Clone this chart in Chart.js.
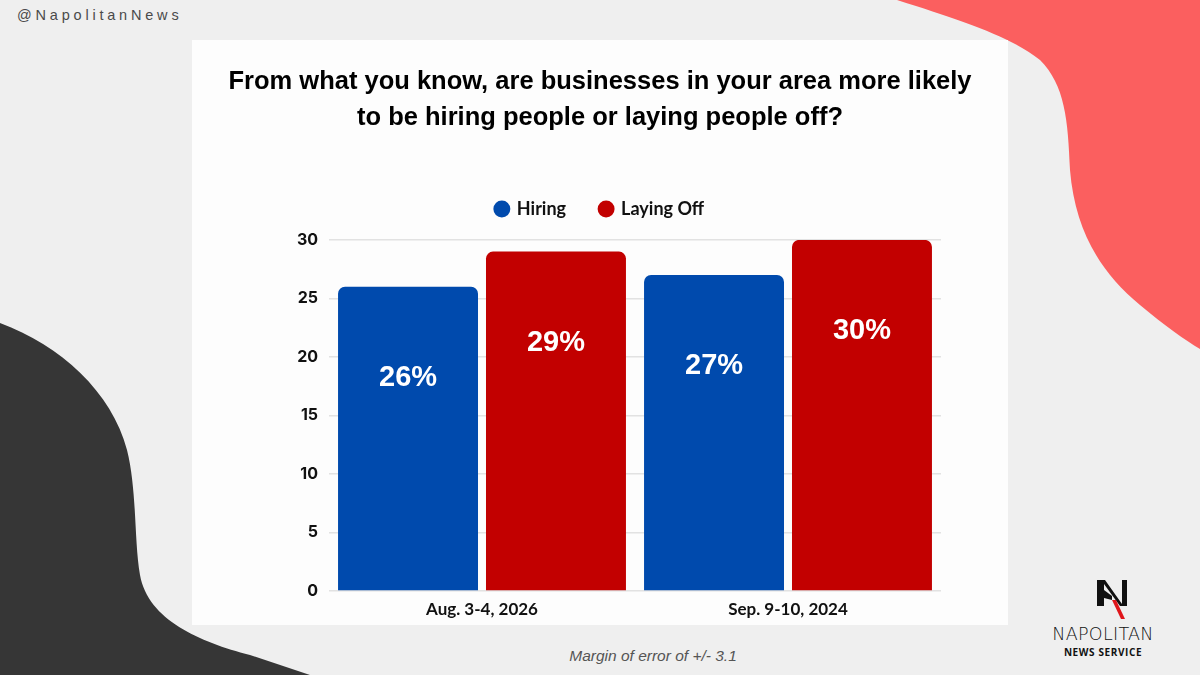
<!DOCTYPE html>
<html>
<head>
<meta charset="utf-8">
<script src="https://cdn.jsdelivr.net/npm/chart.js@4.4.1/dist/chart.umd.min.js"></script>
<style>
  html, body { margin: 0; padding: 0; }
  body { width: 1200px; height: 675px; background: #efefef; position: relative; overflow: hidden; font-family: "Liberation Sans", Arial, sans-serif; }
  #fondo { position: absolute; left: 0; top: 0; }
  #panel { position: absolute; left: 192px; top: 40px; width: 816px; height: 585px; background: #fdfdfd; }
  #handle { position: absolute; left: 17px; top: 7px; font-size: 14.5px; letter-spacing: 3.8px; color: #4a4a4a; }
  #nota { position: absolute; left: 453px; width: 400px; top: 647px; text-align: center; font-style: italic; font-size: 15.5px; color: #555; }
  #logo1 { position: absolute; left: 1043px; width: 120px; top: 624px; text-align: center; font-size: 17.5px; letter-spacing: 0.3px; color: #111; font-family: "DejaVu Sans", sans-serif; font-weight: 300; }
  #logo2 { position: absolute; left: 1043px; width: 120px; top: 645px; text-align: center; font-size: 10px; font-weight: bold; letter-spacing: 0.6px; color: #111; font-family: "Open Sans", sans-serif; }
</style>
</head>
<body>
<svg id="fondo" width="1200" height="675">
  <path d="M897,0 C960,20 1010,36 1040,60 C1065,85 1068,120 1070,170 C1075,230 1100,272 1140,305 C1165,326 1185,340 1200,349 L1200,0 Z" fill="#fb5f5f"/>
  <path d="M0,323 C60,345 112,392 127,450 C137,490 134,540 140,575 C148,620 200,642 250,655 L310,675 L0,675 Z" fill="#363636"/>
  <!-- logo N -->
  <path d="M1097,580 L1105,580 L1122,604 L1122,580 L1127,580 L1127,606 L1120,606 L1104,584 L1104,606 L1097,606 Z" fill="#111"/>
  <path d="M1104,590 L1112,596 L1112,600 L1104,598 Z" fill="#111"/>
  <path d="M1112,600 L1116,600 L1125,619 L1121,619 Z" fill="#e0161b"/>
</svg>
<div id="panel"><canvas id="grafico"></canvas></div>
<div id="handle">@NapolitanNews</div>
<div id="nota">Margin of error of +/- 3.1</div>
<div id="logo1">NAPOLITAN</div>
<div id="logo2">NEWS SERVICE</div>
<script>
const fechas = ["Aug. 3-4, 2026", "Sep. 9-10, 2024"];
const contratando = [26, 27];
const despidiendo = [29, 30];
const ticksY = [0, 5, 10, 15, 20, 25, 30];

const AZUL = "#004aad";
const ROJO = "#c20000";

// etiquetas blancas dentro de cada barra
const etiquetasBarras = {
  id: "etiquetasBarras",
  afterDatasetsDraw(chart) {
    const { ctx } = chart;
    ctx.save();
    ctx.fillStyle = "#ffffff";
    ctx.font = "bold 29px 'Liberation Sans', Arial, sans-serif";
    ctx.textAlign = "center";
    ctx.textBaseline = "middle";
    chart.data.datasets.forEach((ds, i) => {
      chart.getDatasetMeta(i).data.forEach((barra, j) => {
        ctx.fillText(ds.data[j] + "%", barra.x, barra.y + 91);
      });
    });
    ctx.restore();
  },
};

// alto fijo para la leyenda
const altoLeyenda = {
  id: "altoLeyenda",
  afterInit(chart) {
    const fitOriginal = chart.legend.fit;
    chart.legend.fit = function () {
      fitOriginal.call(this);
      this.height = 74;
    };
  },
};

new Chart(document.getElementById("grafico"), {
  type: "bar",
  data: {
    labels: fechas,
    datasets: [
      { label: "Hiring", data: contratando, backgroundColor: AZUL },
      { label: "Laying Off", data: despidiendo, backgroundColor: ROJO },
    ],
  },
  options: {
    responsive: true,
    maintainAspectRatio: false,
    animation: false,
    layout: { padding: { top: 24, left: 0, right: 0, bottom: 4 } },
    datasets: {
      bar: {
        categoryPercentage: 0.967,
        barPercentage: 0.946,
        borderRadius: { topLeft: 7, topRight: 7, bottomLeft: 0, bottomRight: 0 },
        borderSkipped: "start",
      },
    },
    scales: {
      x: {
        grid: { display: false },
        border: { display: false },
        ticks: {
          color: "#111",
          padding: 0,
          font: { family: "Lato", size: 17, weight: "bold" },
        },
        afterFit: (escala) => { escala.height = 30; },
      },
      y: {
        min: 0,
        max: 30,
        afterBuildTicks: (escala) => { escala.ticks = ticksY.map((v) => ({ value: v })); },
        grid: { color: "#e2e2e2", lineWidth: 1.5, drawTicks: false },
        border: { display: false },
        ticks: {
          color: "#111",
          padding: 11,
          font: { family: "Inter", size: 16, weight: "bold" },
        },
        afterFit: (escala) => { escala.width = 137; },
      },
      // eje vacío a la derecha, solo para dejar margen
      margen: {
        position: "right",
        min: 0,
        max: 30,
        grid: { display: false },
        border: { display: false },
        ticks: { display: false },
        afterFit: (escala) => { escala.width = 67; },
      },
    },
    plugins: {
      title: {
        display: true,
        text: [
          "From what you know, are businesses in your area more likely",
          "to be hiring people or laying people off?",
        ],
        color: "#000",
        font: { family: "Liberation Sans", size: 25.5, weight: "bold", lineHeight: 1.41 },
        padding: { top: 0, bottom: 30 },
      },
      legend: {
        display: true,
        labels: {
          usePointStyle: true,
          pointStyle: "circle",
          boxWidth: 12,
          boxHeight: 12,
          padding: 34,
          color: "#111",
          font: { family: "Lato", size: 18, weight: "bold" },
        },
      },
      tooltip: { enabled: false },
    },
  },
  plugins: [etiquetasBarras, altoLeyenda],
});
</script>
</body>
</html>
